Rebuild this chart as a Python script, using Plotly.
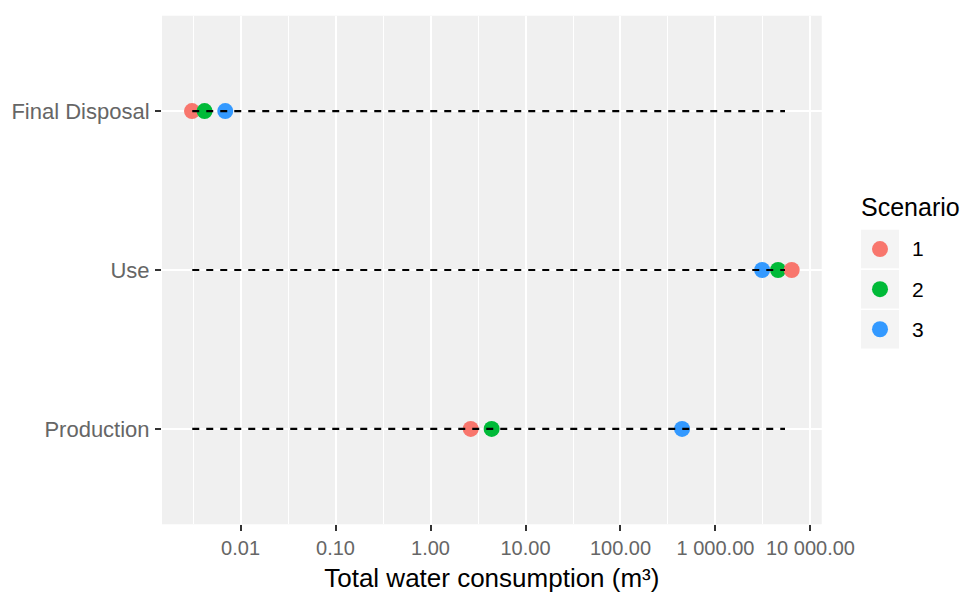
import numpy as np
import plotly.graph_objects as go

# ---------------- data ----------------
categories = ["Production", "Use", "Final Disposal"]
scenarios = ["1", "2", "3"]
scenario_colors = ["#F8766D", "#00BA38", "#3399FF"]
# Total water consumption (m³) per life-cycle stage, one list per scenario
scenario1 = [2.65, 6350.0, 0.00308]
scenario2 = [4.40, 4560.0, 0.00418]
scenario3 = [445.0, 3100.0, 0.0069]
segment_start = [0.0031, 0.0031, 0.0031]
segment_end = [5400.0, 5400.0, 5400.0]
x_tickvals = [0.01, 0.1, 1, 10, 100, 1000, 10000]
x_ticktext = ["0.01", "0.10", "1.00", "10.00", "100.00", "1 000.00", "10 000.00"]
x_title = "Total water consumption (m³)"
legend_title = "Scenario"

# ---------------- layout constants ----------------
W, H = 963, 593
P_L, P_R, P_T, P_B = 162, 821.7, 15.7, 524.3
FONT = "Liberation Sans, Arial, sans-serif"
AXIS_TEXT = "#666666"

series = [scenario1, scenario2, scenario3]

# single point trace, drawn in ascending value order (so larger values sit on top)
pts = []
for s_idx, vals in enumerate(series):
    for c_idx, v in enumerate(vals):
        pts.append((v, categories[c_idx], scenario_colors[s_idx], scenarios[s_idx]))
pts.sort(key=lambda p: p[0])

all_vals = [p[0] for p in pts] + segment_start + segment_end
lo, hi = np.log10(min(all_vals)), np.log10(max(all_vals))
pad = 0.05 * (hi - lo)
x_range = [lo - pad, hi + pad]

fig = go.Figure()

fig.add_trace(go.Scatter(
    x=[p[0] for p in pts], y=[p[1] for p in pts], mode="markers",
    marker=dict(color=[p[2] for p in pts], size=16, line=dict(width=0)),
    showlegend=False, hoverinfo="x+y",
))

for c, s0, s1 in zip(categories, segment_start, segment_end):
    fig.add_trace(go.Scatter(
        x=[s0, s1], y=[c, c], mode="lines",
        line=dict(color="black", width=2.2, dash="7px,7px"),
        showlegend=False, hoverinfo="skip",
    ))

# custom legend drawn on an inset axis
fig.add_trace(go.Scatter(
    x=[0.5] * len(scenarios), y=scenarios, mode="markers",
    marker=dict(color=scenario_colors, size=16, line=dict(width=0)),
    xaxis="x2", yaxis="y2", showlegend=False, hoverinfo="skip",
))

shapes = [dict(type="rect", xref="x domain", yref="y domain", x0=0, x1=1, y0=0, y1=1,
               layer="below", fillcolor="#F0F0F0", line=dict(width=0))]
for i in range(len(scenarios)):
    shapes.append(dict(type="rect", xref="x2 domain", yref="y2", x0=0, x1=1,
                       y0=i - 0.48, y1=i + 0.48, layer="below",
                       fillcolor="#F4F4F4", line=dict(width=0)))

fig.update_layout(
    width=W, height=H, autosize=False,
    margin=dict(l=0, r=0, t=0, b=0, pad=0),
    paper_bgcolor="white", plot_bgcolor="rgba(0,0,0,0)",
    font=dict(family=FONT, color="black"),
    showlegend=False,
    shapes=shapes,
    xaxis=dict(
        type="log", domain=[P_L / W, P_R / W], range=x_range, anchor="y", automargin=False,
        tickmode="array", tickvals=x_tickvals, ticktext=x_ticktext,
        ticks="outside", ticklen=6, tickwidth=2, tickcolor="#333333",
        tickfont=dict(size=20, color=AXIS_TEXT, family=FONT),
        showgrid=True, gridcolor="white", gridwidth=2.2,
        minor=dict(tickmode="array", tickvals=[10 ** (k + 0.5) for k in range(-4, 5)],
                   showgrid=True, gridcolor="white", gridwidth=1.1, ticks=""),
        zeroline=False, showline=False,
        title=dict(text=x_title, font=dict(size=26, color="black", family=FONT), standoff=11),
    ),
    yaxis=dict(
        type="category", categoryorder="array", categoryarray=categories, automargin=False,
        domain=[1 - P_B / H, 1 - P_T / H], range=[-0.6, len(categories) - 0.4], anchor="x",
        ticks="outside", ticklen=6, tickwidth=2, tickcolor="#333333",
        tickfont=dict(size=22, color=AXIS_TEXT, family=FONT), ticklabelstandoff=1,
        showgrid=True, gridcolor="white", gridwidth=2.2,
        zeroline=False, showline=False,
    ),
    xaxis2=dict(domain=[861 / W, 899 / W], range=[0, 1], anchor="y2", automargin=False,
                visible=False, fixedrange=True),
    yaxis2=dict(type="category", categoryorder="array", categoryarray=scenarios,
                domain=[1 - 349.3 / H, 1 - 229 / H], range=[len(scenarios) - 0.5, -0.5],
                anchor="x2", side="right", ticks="", showgrid=False, zeroline=False,
                showline=False, ticklabelstandoff=12, automargin=False,
                tickfont=dict(size=21, color="black", family=FONT), fixedrange=True),
    annotations=[dict(text=legend_title, xref="paper", yref="paper",
                      x=859 / W, y=1 - 207 / H, xanchor="left", yanchor="middle",
                      showarrow=False, font=dict(size=25, color="black", family=FONT))],
)

fig.write_html("out.html")
